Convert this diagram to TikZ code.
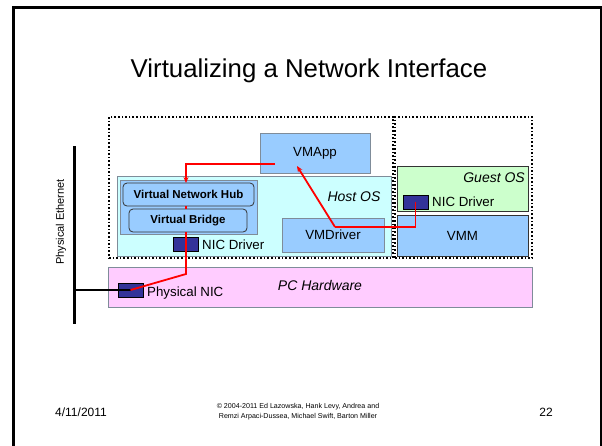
\documentclass[tikz,border=0pt]{standalone}
\usepackage{fontspec}
\setmainfont{Liberation Sans}
\usetikzlibrary{arrows.meta}
\definecolor{boxblue}{HTML}{99CCFF}
\definecolor{hostcyan}{HTML}{CCFFFF}
\definecolor{guestgreen}{HTML}{CCFFCC}
\definecolor{hwpink}{HTML}{FFCCFF}
\definecolor{nicnavy}{HTML}{333399}
\definecolor{edgegray}{HTML}{7F8C99}
\begin{document}
\begin{tikzpicture}[x=1pt,y=-1pt,
  box/.style={draw=edgegray,line width=1pt,inner sep=0pt,minimum width=#1},
  bluebox/.style={box=#1,fill=boxblue},
  rbox/.style={draw=black!80,line width=0.8pt,fill=boxblue,rounded corners=4pt,inner sep=0pt,minimum width=#1,minimum height=23pt,font=\fontsize{11.5}{13}\selectfont\bfseries},
  nicsq/.style={draw=black,line width=0.6pt,fill=nicnavy,inner sep=0pt,minimum width=25pt,minimum height=14pt},
  dotbox/.style={draw=black,dotted,line width=1.6pt,inner sep=0pt},
  lbl/.style={font=\fontsize{13.3}{15}\selectfont,inner sep=0pt},
  itl/.style={font=\fontsize{14}{16}\selectfont\itshape,inner sep=0pt},
  redline/.style={draw=red,line width=1.8pt},
  redarrow/.style={redline,-{Stealth[length=6pt,width=5pt]}}]
\useasboundingbox (0,0) rectangle (602,445);
\clip (0,0) rectangle (602,445);
\fill[white] (0,0) rectangle (602,445);
\draw[line width=2.5pt] (13.5,7.5) rectangle (601.2,455);

% title
\node[font=\fontsize{25.8}{28}\selectfont,inner sep=0pt] (title) at (309,71) {Virtualizing a Network Interface};

% dotted regions
\node[dotbox,minimum width=284pt,minimum height=141pt] (dotL) at (251,187.5) {};
\node[dotbox,minimum width=137pt,minimum height=141pt] (dotR) at (463.5,187.5) {};

% host OS
\node[box=274pt,fill=hostcyan,minimum height=80pt] (host) at (254,216) {};
\node[itl] (hostlbl) at (354,197) {Host OS};
\node[bluebox=110pt,minimum height=40pt,lbl] (vmapp) at (315,153) {VMApp};
\node[bluebox=137pt,minimum height=54pt] (hubbox) at (188.5,207) {};
\node[rbox=131pt] (hub) at (188.5,194.5) {Virtual Network Hub};
\node[rbox=118pt] (bridge) at (188,220.5) {Virtual Bridge};
\node[nicsq] (nicH) at (185.5,244) {};
\node[lbl,anchor=west] (nicHlbl) at (202,244.5) {NIC Driver};
\node[bluebox=102pt,minimum height=34pt,lbl] (vmdriver) at (333,235) {VMDriver};

% guest side
\node[draw=black!80,line width=1pt,fill=guestgreen,inner sep=0pt,minimum width=131pt,minimum height=45pt] (guest) at (462.5,188.5) {};
\node[itl,anchor=east] (guestlbl) at (525,178) {Guest OS};
\node[nicsq] (nicG) at (415.5,202) {};
\node[lbl,anchor=west] (nicGlbl) at (432,201.5) {NIC Driver};
\node[draw=black!80,line width=1pt,fill=boxblue,inner sep=0pt,minimum width=131pt,minimum height=41pt,lbl] (vmm) at (462.5,235.5) {VMM};

% hardware
\node[box=424pt,fill=hwpink,minimum height=40pt] (hw) at (320,287) {};
\node[itl] (hwlbl) at (320,285) {PC Hardware};
\node[nicsq] (nicP) at (130.5,290) {};
\node[lbl,anchor=west] (nicPlbl) at (147,293) {Physical NIC};

% physical ethernet
\coordinate (ethTop) at (74,146);
\coordinate (ethBot) at (74,324);
\coordinate (ethJ) at (74,290);
\draw[line width=3pt] (ethTop) -- (ethBot);
\draw[line width=1.8pt] (ethJ) -- (nicP.center);
\node[font=\fontsize{11}{13}\selectfont,rotate=90,inner sep=0pt] (ethlbl) at (61,222) {Physical Ethernet};

% red paths
\coordinate (vmL) at (275,164);
\coordinate (hubIn) at (186,183);
\coordinate (hubOut) at (186,206);
\coordinate (brIn) at (186,209);
\coordinate (brOut) at (186,232);
\coordinate (bend1) at (186,274);
\coordinate (gBend) at (416,227);
\coordinate (dBend) at (335,227);
\coordinate (vmIn) at (297,166);
\draw[redarrow] (vmL) -| (hubIn);
\draw[redline] (hubOut) -- (brIn);
\draw[redline] (brOut) -- (bend1) -- (nicP.center);
\draw[redline] (nicG.center) |- (dBend);
\draw[redarrow] (dBend) -- (vmIn);

% footer
\node[font=\fontsize{12}{14}\selectfont,anchor=west,inner sep=0pt] (date) at (55,412) {4/11/2011};
\node[font=\fontsize{7.1}{10}\selectfont,align=center,inner sep=0pt] (copy) at (298,412) {© 2004-2011 Ed Lazowska, Hank Levy, Andrea and\\Remzi Arpaci-Dussea, Michael Swift, Barton Miller};
\node[font=\fontsize{12}{14}\selectfont,anchor=east,inner sep=0pt] (page) at (553,412) {22};
\end{tikzpicture}
\end{document}
